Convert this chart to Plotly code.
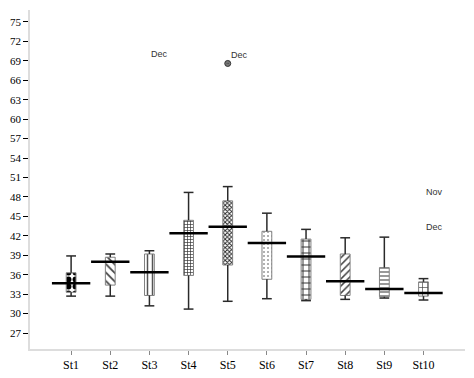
import plotly.graph_objects as go

categories = ["St1", "St2", "St3", "St4", "St5", "St6", "St7", "St8", "St9", "St10"]
whisker_low = [32.7, 32.7, 31.2, 30.7, 31.9, 32.3, 32.0, 32.2, 32.4, 32.1]
box_low = [33.3, 34.4, 32.8, 35.9, 37.5, 35.3, 32.2, 32.8, 32.6, 32.7]
box_high = [36.3, 38.7, 39.2, 44.4, 47.4, 42.7, 41.5, 39.2, 37.1, 34.9]
whisker_high = [38.9, 39.2, 39.7, 48.7, 49.6, 45.5, 43.0, 41.7, 41.8, 35.4]
center_line = [34.7, 38.0, 36.4, 42.4, 43.4, 40.9, 38.8, 35.0, 33.8, 33.2]
patterns = [".", "\\", "|", "+", "x", ".", "+", "/", "-", "+"]
outlier_cat = [4]
outlier_val = [68.6]
labels = [(2.0, 70.0, "Dec"), (4.03, 69.9, "Dec"), (9.02, 48.7, "Nov"), (9.02, 43.3, "Dec")]
y_ticks = list(range(27, 76, 3))

xs = list(range(len(categories)))
box_w = 0.25
line_w = 0.49

fig = go.Figure()

# boxes as patterned bars
pat_size = [7, 6, 5, 3, 3, 4, 6, 5, 4, 5]
pat_sol = [0.55, 0.3, 0.3, 0.4, 0.5, 0.2, 0.3, 0.3, 0.3, 0.25]
pat_fg = ["#000000", "#444444", "#555555", "#333333", "#222222", "#999999", "#333333", "#444444", "#555555", "#444444"]
for i in xs:
    fig.add_trace(go.Bar(
        x=[i], y=[box_high[i] - box_low[i]], base=[box_low[i]], width=box_w,
        marker=dict(color="white", line=dict(color="#808080", width=1),
                    pattern=dict(shape=patterns[i], size=pat_size[i], solidity=pat_sol[i],
                                 fgcolor=pat_fg[i], bgcolor="white", fillmode="replace")),
        showlegend=False, hoverinfo="skip"))

# whiskers and caps
wx, wy = [], []
for i in xs:
    wx += [i, i, None, i, i, None, i - box_w / 2, i + box_w / 2, None, i - box_w / 2, i + box_w / 2, None]
    wy += [whisker_low[i], box_low[i], None, box_high[i], whisker_high[i], None,
           whisker_low[i], whisker_low[i], None, whisker_high[i], whisker_high[i], None]
fig.add_trace(go.Scatter(x=wx, y=wy, mode="lines", line=dict(color="#2a2a2a", width=1.5),
                         showlegend=False, hoverinfo="skip"))

# thick center lines
cx, cy = [], []
for i in xs:
    cx += [i - line_w, i + line_w, None]
    cy += [center_line[i], center_line[i], None]
fig.add_trace(go.Scatter(x=cx, y=cy, mode="lines", line=dict(color="black", width=2.5),
                         showlegend=False, hoverinfo="skip"))

# outlier
fig.add_trace(go.Scatter(x=outlier_cat, y=outlier_val, mode="markers",
                         marker=dict(symbol="circle-dot", size=6, color="#777777",
                                     line=dict(color="#333333", width=1)),
                         showlegend=False, hoverinfo="skip"))

for lx, ly, lt in labels:
    fig.add_annotation(x=lx, y=ly, text=lt, showarrow=False, xref="x", yref="y", xanchor="left",
                       font=dict(family="Liberation Sans", size=9, color="#333333"))

serif = "Liberation Serif"
fig.update_layout(
    width=466, height=370,
    margin=dict(l=20, r=9, t=2, b=29),
    paper_bgcolor="white", plot_bgcolor="white",
    barmode="overlay",
    xaxis=dict(range=[-1.05, 10.06], tickvals=xs, ticktext=categories,
               showgrid=False, zeroline=False, showline=True, linecolor="#dddddd", linewidth=1.5,
               ticks="outside", ticklen=4, tickcolor="#888888",
               tickfont=dict(family=serif, size=12, color="black")),
    yaxis=dict(range=[24.54, 76.85], tickvals=y_ticks, ticktext=[str(v) for v in y_ticks],
               showgrid=False, zeroline=False, showline=True, linecolor="#dddddd", linewidth=1.5,
               ticks="outside", ticklen=5, tickcolor="black",
               tickfont=dict(family=serif, size=11, color="black")),
)

fig.write_html("out.html")
